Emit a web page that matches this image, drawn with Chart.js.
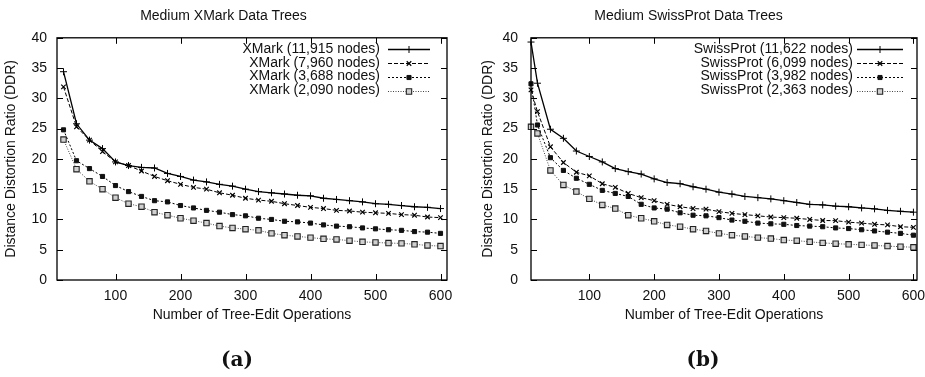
<!DOCTYPE html>
<html>
<head>
<meta charset="utf-8">
<script src="https://cdn.jsdelivr.net/npm/chart.js@4"></script>
<style>
body { margin: 0; background: #fff; }
#wrap { position: relative; width: 925px; height: 377px; overflow: hidden; }
canvas { position: absolute; top: 0; }
.cap { position: absolute; top: 347px; font: bold 20px "DejaVu Serif", serif; color: #111; transform: translateX(-50%); line-height: 24px; }
</style>
</head>
<body>
<div id="wrap">
  <canvas id="chartA" width="460" height="377" style="left:0"></canvas>
  <canvas id="chartB" width="465" height="377" style="left:460px"></canvas>
  <div class="cap" style="left:237px">(a)</div>
  <div class="cap" style="left:703px">(b)</div>
</div>
<script>
// x values (number of tree-edit operations)
const xmarkOps = [20,40,60,80,100,120,140,160,180,200,220,240,260,280,300,320,340,360,380,400,420,440,460,480,500,520,540,560,580,600];
const swissOps = [10,20,40,60,80,100,120,140,160,180,200,220,240,260,280,300,320,340,360,380,400,420,440,460,480,500,520,540,560,580,600];

// XMark DDR values
const xmark11915 = [34.4,25.8,23.1,21.7,19.5,18.9,18.6,18.5,17.6,17.1,16.5,16.2,15.8,15.5,15.0,14.6,14.4,14.2,14.0,13.9,13.5,13.3,13.1,12.9,12.6,12.5,12.3,12.1,12.0,11.8];
const xmark7960  = [31.9,25.3,23.1,21.2,19.5,18.9,18.0,17.1,16.4,15.8,15.3,15.0,14.4,14.0,13.5,13.2,13.0,12.6,12.3,12.0,11.8,11.5,11.4,11.2,11.1,11.0,10.8,10.7,10.4,10.3];
const xmark3688  = [24.8,19.7,18.4,17.1,15.6,14.6,13.8,13.1,12.9,12.3,11.9,11.5,11.2,10.8,10.6,10.2,10.0,9.7,9.6,9.4,9.1,8.9,8.8,8.6,8.45,8.3,8.2,8.0,7.9,7.7];
const xmark2090  = [23.2,18.3,16.3,15.0,13.6,12.6,12.1,11.2,10.7,10.2,9.8,9.4,8.9,8.6,8.4,8.2,7.7,7.4,7.2,7.0,6.8,6.7,6.5,6.3,6.2,6.1,6.05,5.9,5.7,5.6];

// SwissProt DDR values
const swiss11622 = [39.3,32.5,24.9,23.4,21.3,20.4,19.5,18.4,17.9,17.5,16.7,16.1,15.9,15.4,15.0,14.5,14.2,13.8,13.6,13.4,13.1,12.8,12.5,12.4,12.2,12.1,11.9,11.75,11.5,11.35,11.2];
const swiss6099  = [31.4,27.8,22.0,19.4,17.8,17.2,15.9,15.3,14.3,13.6,13.1,12.5,12.1,11.8,11.7,11.3,11.0,10.8,10.6,10.4,10.3,10.2,10.0,9.83,9.8,9.55,9.4,9.2,9.1,8.8,8.7];
const swiss3982  = [32.4,25.6,20.2,18.1,16.8,15.8,14.8,14.3,13.8,12.5,11.9,11.7,11.1,10.7,10.6,10.3,9.9,9.7,9.4,9.28,9.2,9.0,8.9,8.8,8.6,8.5,8.3,8.1,7.9,7.7,7.4];
const swiss2363  = [25.3,24.2,18.1,15.7,14.6,13.4,12.4,11.8,10.7,10.2,9.7,9.1,8.8,8.4,8.1,7.7,7.4,7.2,7.0,6.85,6.6,6.5,6.3,6.13,6.0,5.9,5.8,5.7,5.6,5.5,5.4];

const xmarkLabels = ['XMark (11,915 nodes)', 'XMark (7,960 nodes)', 'XMark (3,688 nodes)', 'XMark (2,090 nodes)'];
const swissLabels = ['SwissProt (11,622 nodes)', 'SwissProt (6,099 nodes)', 'SwissProt (3,982 nodes)', 'SwissProt (2,363 nodes)'];

const xTicks = [100, 200, 300, 400, 500, 600];
const yTicks = [0, 5, 10, 15, 20, 25, 30, 35, 40];

const FONT = '"Liberation Sans", Arial, sans-serif';
const INK = '#111';

// line / marker styles per series, gnuplot-like
const styles = [
    { borderColor: '#000', borderWidth: 1.3, borderDash: [], pointStyle: 'cross', pointRadius: 3.5, pointBorderColor: '#000', pointBackgroundColor: '#000', pointBorderWidth: 1 },
    { borderColor: '#000', borderWidth: 1, borderDash: [4, 2], pointStyle: 'crossRot', pointRadius: 3.2, pointBorderColor: '#000', pointBackgroundColor: '#000', pointBorderWidth: 1.2 },
    { borderColor: '#000', borderWidth: 1, borderDash: [2, 2], pointStyle: 'rect', pointRadius: 2.9, pointBorderColor: '#111', pointBackgroundColor: '#111', pointBorderWidth: 1 },
    { borderColor: '#444', borderWidth: 1, borderDash: [1, 1.5], pointStyle: 'rect', pointRadius: 3.8, pointBorderColor: '#222', pointBackgroundColor: '#d0d0d0', pointBorderWidth: 1.1 }
];

function buildSets(ops, series, labels) {
    return series.map((vals, i) => Object.assign({
        label: labels[i],
        data: ops.map((x, j) => ({ x: x, y: vals[j] })),
        fill: false,
        tension: 0,
        clip: false,
        pointHoverRadius: 4
    }, styles[i]));
}

// frame + inward mirrored ticks, like gnuplot's border
const framePlugin = {
    id: 'frame',
    afterDatasetsDraw(chart) {
        const { ctx, chartArea: a, scales } = chart;
        ctx.save();
        ctx.strokeStyle = '#000';
        ctx.lineWidth = 1;
        ctx.beginPath();
        yTicks.forEach(v => {
            const py = Math.round(scales.y.getPixelForValue(v)) + 0.5;
            ctx.moveTo(a.left, py); ctx.lineTo(a.left + 6, py);
            ctx.moveTo(a.right, py); ctx.lineTo(a.right - 6, py);
        });
        xTicks.forEach(v => {
            const px = Math.round(scales.x.getPixelForValue(v)) + 0.5;
            ctx.moveTo(px, a.bottom); ctx.lineTo(px, a.bottom - 6);
            ctx.moveTo(px, a.top); ctx.lineTo(px, a.top + 6);
        });
        ctx.stroke();
        ctx.lineWidth = 1.3;
        ctx.strokeRect(a.left, a.top, a.right - a.left, a.bottom - a.top);
        ctx.restore();
    }
};

// key in the top right corner: label right-aligned, sample to its right
const keyPlugin = {
    id: 'gnuKey',
    afterDraw(chart, args, opts) {
        const { ctx, chartArea: a } = chart;
        const textRight = a.right - opts.textGap;
        const x0 = a.right - opts.lineFrom, x1 = a.right - opts.lineTo;
        ctx.save();
        ctx.font = '14px ' + FONT;
        ctx.textAlign = 'right';
        ctx.textBaseline = 'middle';
        chart.data.datasets.forEach((ds, i) => {
            const y = a.top + 11 + i * 13.9;
            ctx.fillStyle = INK;
            ctx.fillText(ds.label, textRight, y);
            ctx.strokeStyle = ds.borderColor;
            ctx.lineWidth = ds.borderWidth;
            ctx.setLineDash(ds.borderDash);
            ctx.beginPath();
            ctx.moveTo(x0, Math.round(y) + 0.5);
            ctx.lineTo(x1, Math.round(y) + 0.5);
            ctx.stroke();
            ctx.setLineDash([]);
            ctx.fillStyle = ds.pointBackgroundColor;
            ctx.strokeStyle = ds.pointBorderColor;
            ctx.lineWidth = ds.pointBorderWidth;
            Chart.helpers.drawPoint(ctx, { pointStyle: ds.pointStyle, radius: ds.pointRadius, rotation: 0, borderWidth: ds.pointBorderWidth }, (x0 + x1) / 2, Math.round(y) + 0.5);
        });
        ctx.restore();
    }
};

function makeChart(id, title, sets, xMax, yWidth, yPad, yTitlePad, rightPad, key) {
    return new Chart(document.getElementById(id), {
        type: 'line',
        data: { datasets: sets },
        plugins: [framePlugin, keyPlugin],
        options: {
            responsive: false,
            animation: false,
            events: [],
            layout: { padding: { left: 0, right: rightPad, top: 0, bottom: 52 } },
            plugins: {
                legend: { display: false },
                tooltip: { enabled: false },
                title: {
                    display: true,
                    text: title,
                    color: INK,
                    font: { family: FONT, size: 14, weight: 'normal' },
                    padding: { top: 8, bottom: 13 }
                },
                gnuKey: key
            },
            scales: {
                x: {
                    type: 'linear',
                    min: 10,
                    max: xMax,
                    afterBuildTicks: s => { s.ticks = xTicks.map(v => ({ value: v })); },
                    afterFit: s => { s.height = 45; s.paddingLeft = 0; s.paddingRight = 0; },
                    grid: { display: false, drawTicks: false },
                    border: { display: false },
                    ticks: { color: INK, padding: 8, maxRotation: 0, font: { family: FONT, size: 14 } },
                    title: {
                        display: true,
                        text: 'Number of Tree-Edit Operations',
                        color: INK,
                        font: { family: FONT, size: 14 },
                        padding: { top: 0, bottom: 1 }
                    }
                },
                y: {
                    min: 0,
                    max: 40,
                    afterBuildTicks: s => { s.ticks = yTicks.map(v => ({ value: v })); },
                    afterFit: s => { s.width = yWidth; s.paddingTop = 0; s.paddingBottom = 0; },
                    grid: { display: false, drawTicks: false },
                    border: { display: false },
                    ticks: { color: INK, padding: yPad, font: { family: FONT, size: 14 } },
                    title: {
                        display: true,
                        text: 'Distance Distortion Ratio (DDR)',
                        color: INK,
                        font: { family: FONT, size: 14 },
                        padding: { top: yTitlePad, bottom: 0 }
                    }
                }
            }
        }
    });
}

makeChart('chartA', 'Medium XMark Data Trees',
    buildSets(xmarkOps, [xmark11915, xmark7960, xmark3688, xmark2090], xmarkLabels),
    610, 57, 10, 3, 13, { textGap: 67, lineFrom: 59, lineTo: 17 });

makeChart('chartB', 'Medium SwissProt Data Trees',
    buildSets(swissOps, [swiss11622, swiss6099, swiss3982, swiss2363], swissLabels),
    605.5, 71, 13, 20, 8, { textGap: 64, lineFrom: 60, lineTo: 14 });
</script>
</body>
</html>
